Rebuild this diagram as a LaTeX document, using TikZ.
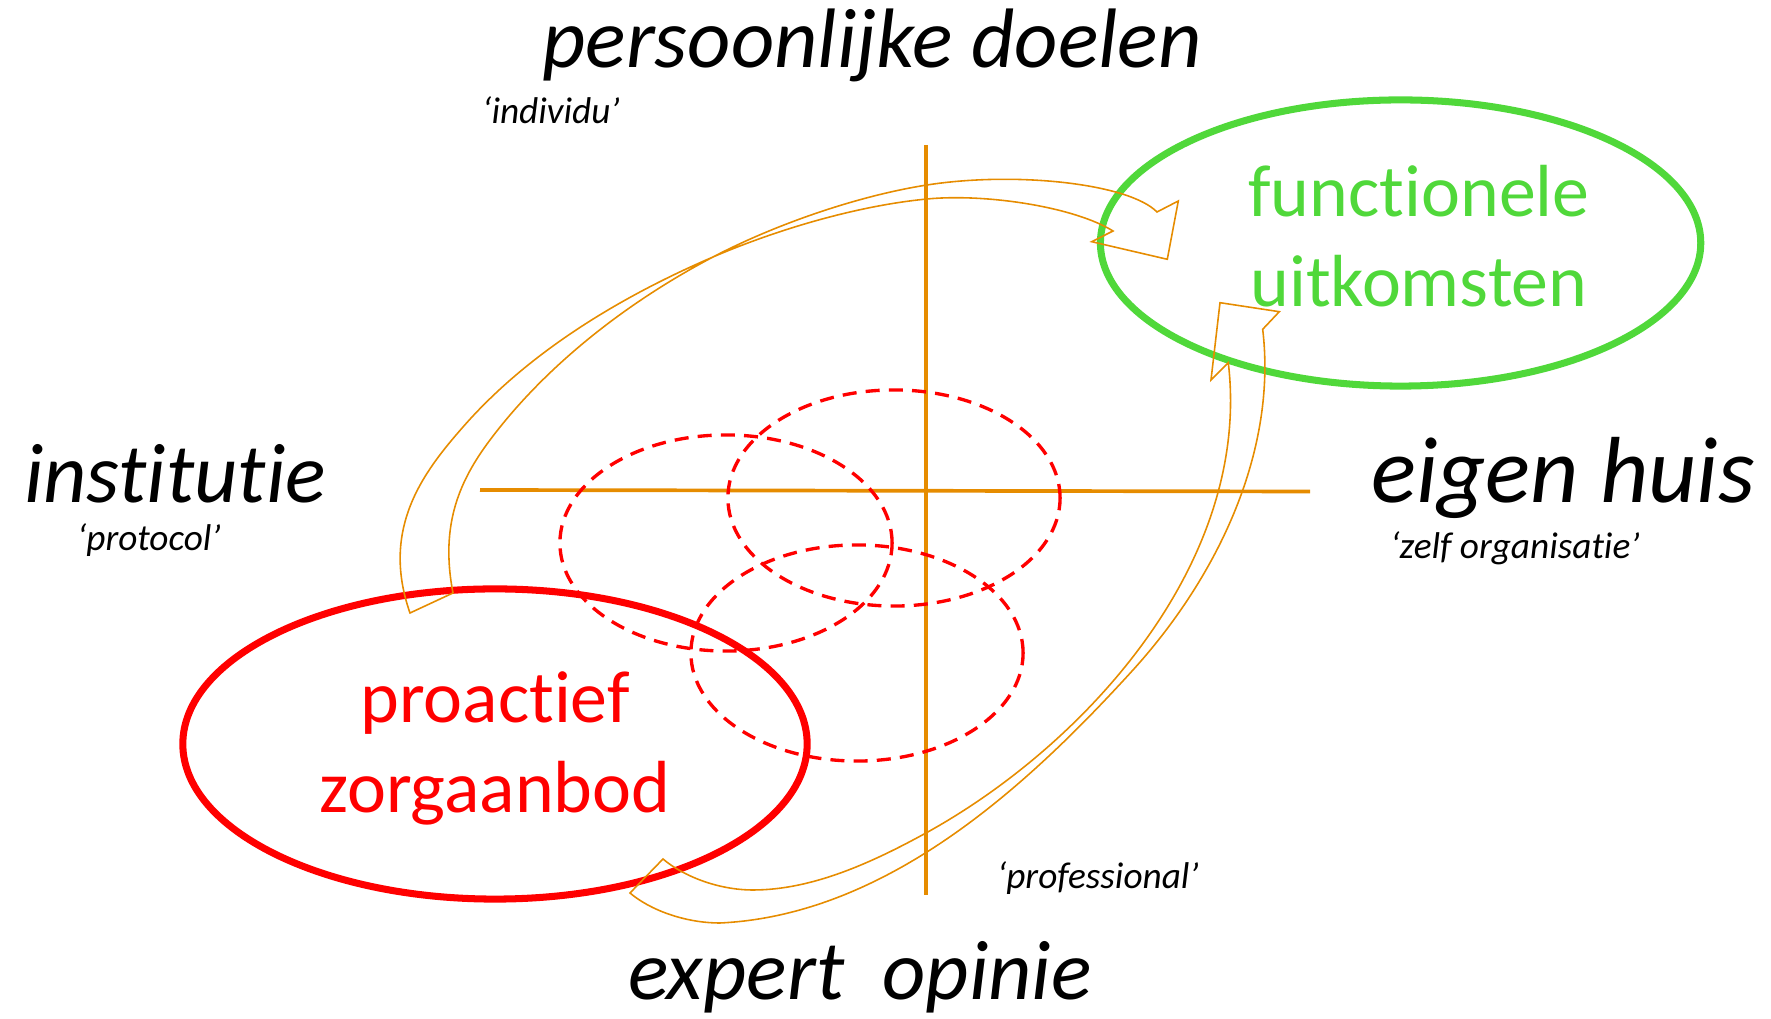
\documentclass[tikz,border=0pt]{standalone}
\usepackage{fontspec}
\setmainfont{Carlito}[Ligatures=NoCommon]
\usetikzlibrary{shapes.geometric}
\definecolor{axorange}{RGB}{230,140,0}
\definecolor{fgreen}{RGB}{80,216,58}
\definecolor{fred}{RGB}{255,0,0}
\tikzset{
  axisline/.style={draw=axorange, line width=1.05pt},
  bigring/.style={ellipse, draw, line width=2pt, inner sep=0pt},
  dashring/.style={ellipse, draw=fred, line width=0.95pt, dash pattern=on 4pt off 2.6pt, inner sep=0pt},
  blockarrow/.style={draw=axorange, line width=0.45pt, line join=miter},
  biglabel/.style={anchor=base, inner sep=0pt, font=\fontsize{24}{28}\selectfont\itshape},
  smalllabel/.style={anchor=base, inner sep=0pt, font=\fontsize{10.6}{13}\selectfont\itshape},
  ringtext/.style={anchor=base, inner sep=0pt, font=\fontsize{21}{25}\selectfont},
}
\begin{document}
\begin{tikzpicture}[x=0.01cm, y=-0.01cm]
\useasboundingbox (0,0) rectangle (1771,1019);

% axes
\coordinate (hL) at (480,490);
\coordinate (hR) at (1310,491.5);
\coordinate (vT) at (926,145);
\coordinate (vB) at (926,895);
\draw[axisline] (hL) -- (hR);
\draw[axisline] (vT) -- (vB);

% dashed ellipses
\node[dashring, minimum width=3.32cm, minimum height=2.16cm] (d1) at (726,543) {};
\node[dashring, minimum width=3.32cm, minimum height=2.16cm] (d2) at (894,498) {};
\node[dashring, minimum width=3.32cm, minimum height=2.16cm] (d3) at (857,653) {};

% main ellipses
\node[bigring, draw=fgreen, minimum width=6.0cm, minimum height=2.86cm] (green) at (1400.6,243) {};
\node[bigring, draw=fred, minimum width=6.24cm, minimum height=3.1cm] (red) at (495,744) {};

% curved block arrow A (red -> green, over the top; ribbon edges cross once)
\coordinate (aTailO) at (410,613);
\coordinate (aTailI) at (453,593);
\coordinate (aJoinO) at (1157,212);
\coordinate (aJoinI) at (1113,231);
\coordinate (aBarbO) at (1178.3,201);
\coordinate (aTip) at (1167.3,259.3);
\coordinate (aBarbI) at (1091.7,241.7);
\draw[blockarrow]
  (aTailO) .. controls (380.3,528.4) and (423.5,472) .. (463,427)
           .. controls (528.9,351.7) and (621.1,296.5) .. (713,257)
           .. controls (777.3,229.4) and (857.3,205.7) .. (927,199)
           .. controls (986.7,193.3) and (1074.7,207.1) .. (aJoinI)
  -- (aBarbI) -- (aTip) -- (aBarbO) -- (aJoinO)
           .. controls (1129,183.6) and (1016,171.1) .. (927,185)
           .. controls (857.8,195.8) and (775,224.5) .. (713,257)
           .. controls (628.9,301.2) and (547,364) .. (490,440)
           .. controls (460,480) and (439.7,524.4) .. (aTailI)
  -- cycle;

% curved block arrow B (bottom -> green)
\coordinate (bTailO) at (630,893);
\coordinate (bTailI) at (663,859);
\coordinate (bJoinO) at (1262.7,329.3);
\coordinate (bJoinI) at (1228.3,362.7);
\coordinate (bBarbO) at (1279.3,311.7);
\coordinate (bTip) at (1220,302.7);
\coordinate (bBarbI) at (1211,380);
\draw[blockarrow]
  (bTailO) .. controls (650,910) and (685,923) .. (720,923)
           .. controls (890,915) and (1032,781) .. (1133,670)
           .. controls (1220,574) and (1277,449) .. (bJoinO)
  -- (bBarbO) -- (bTip) -- (bBarbI) -- (bJoinI)
           .. controls (1252,563) and (1084,746) .. (926,833)
           .. controls (873,862) and (813,890) .. (753,890)
           .. controls (718,890) and (683,876) .. (bTailI)
  -- cycle;

% texts in rings
\node[ringtext, text=fgreen] (g1) at (1419,217) {functionele};
\node[ringtext, text=fgreen] (g2) at (1419,307) {uitkomsten};
\node[ringtext, text=fred] (r1) at (495,723) {proactief};
\node[ringtext, text=fred] (r2) at (495,813) {zorgaanbod};

% axis labels
\node[biglabel] (top) at (872,68) {persoonlijke doelen};
\node[biglabel] (left) at (175,503) {institutie};
\node[biglabel, font=\fontsize{26.7}{30}\selectfont\itshape] (right) at (1563,503) {eigen huis};
\node[biglabel] (bottom) at (860,1000) {expert\ \ opinie};

\node[smalllabel] (s1) at (551,124) {‘individu’};
\node[smalllabel] (s2) at (149,551) {‘protocol’};
\node[smalllabel] (s3) at (1515,559) {‘zelf organisatie’};
\node[smalllabel] (s4) at (1098,889) {‘professional’};
\end{tikzpicture}
\end{document}
